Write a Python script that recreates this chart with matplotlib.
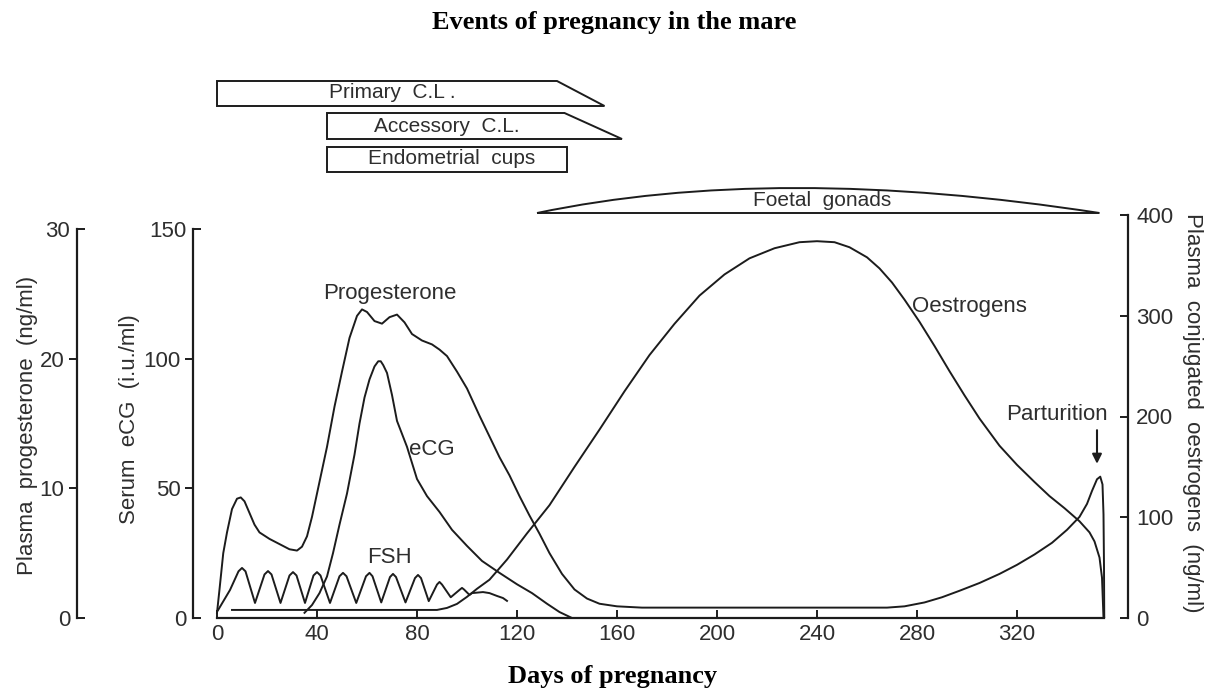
import matplotlib.pyplot as plt
import matplotlib.transforms as mtransforms
from matplotlib.path import Path
from matplotlib.patches import PathPatch, Polygon

# ---- data ----
# progesterone (ng/ml) against day of pregnancy
prog_day = [0, 1, 2.5, 4, 6, 8, 9.5, 11, 13, 15, 17, 21, 25, 29, 32, 34, 36, 38, 41, 44,
            47, 50, 53, 56, 58, 60, 63, 66, 69, 72, 75, 78, 82, 86, 89, 92, 96, 100, 105, 109,
            113, 117, 121, 125, 129, 133, 138, 143, 148, 153, 160, 170, 200, 240, 268, 275, 283,
            290, 297, 305, 313, 320, 327, 334, 340, 345, 348, 350, 352, 353.3, 354.2, 354.6,
            354.8, 354.9]
prog_val = [0.4, 2.2, 5.0, 6.6, 8.4, 9.2, 9.3, 9.0, 8.1, 7.2, 6.6, 6.1, 5.7, 5.3, 5.2, 5.5, 6.3,
            7.8, 10.5, 13.2, 16.3, 19.0, 21.6, 23.3, 23.8, 23.6, 22.9, 22.7, 23.2, 23.4, 22.8,
            21.9, 21.4, 21.1, 20.7, 20.2, 19.0, 17.7, 15.6, 14.0, 12.4, 11.0, 9.4, 7.9, 6.5, 5.0,
            3.4, 2.2, 1.5, 1.1, 0.9, 0.8, 0.8, 0.8, 0.8, 0.9, 1.2, 1.6, 2.1, 2.7, 3.4, 4.1, 4.9,
            5.8, 6.8, 7.8, 8.8, 9.8, 10.7, 10.9, 10.3, 8.0, 4.0, 0.0]

# serum eCG (i.u./ml)
ecg_day = [35, 38, 41, 44, 46.4, 49, 52, 55, 57, 59, 61, 63, 64.5, 65.5, 66.5, 68, 70, 72, 76,
           80, 84, 89, 94, 100, 106, 113, 120, 126, 132, 137, 142]
ecg_val = [2, 5, 9.6, 16, 25, 36, 48, 63, 75, 85, 92, 97, 99, 99, 97.5, 94.5, 86, 76, 66,
           53.6, 47, 40.9, 34, 27.8, 22, 17.4, 13, 9.6, 5.5, 2.3, 0]

# FSH (arbitrary, drawn on the eCG scale)
fsh_day = [0.4, 5.2, 8.6, 10, 11.4, 15.2, 19.0, 20.4, 21.8, 25.4, 29.0, 30.4, 31.8, 35.2,
           38.6, 40.0, 41.4, 45.2, 49.0, 50.4, 51.8, 55.7, 59.6, 61.0, 62.2, 65.7, 69.2, 70.4,
           71.6, 75.4, 79.2, 80.4, 81.6, 84.7, 88.0, 89.0, 90.0, 93.5, 97.2, 98.0, 98.8, 101.0,
           102.0, 106.4, 109.0, 112.0, 114.4, 116.0]
fsh_val = [3.0, 10.8, 18.0, 19.3, 18.0, 5.8, 16.8, 18.1, 16.8, 5.8, 16.4, 17.7, 16.4, 5.8,
           16.4, 17.7, 16.4, 5.8, 16.1, 17.4, 16.1, 5.8, 16.1, 17.4, 16.1, 6.0, 15.8, 17.0,
           15.8, 6.0, 15.4, 16.6, 15.4, 6.5, 12.9, 13.9, 12.9, 8.0, 11.0, 11.6, 11.0, 8.9,
           9.6, 10.0, 9.6, 8.5, 7.7, 6.6]

# plasma conjugated oestrogens (ng/ml)
oes_day = [6, 88, 92, 96, 100, 104, 109, 116, 124, 133, 143, 153, 163, 173, 183, 193, 203,
           213, 223, 233, 240, 247, 253, 260, 265, 270, 275, 281, 287, 293, 299, 305, 313, 320,
           327, 333, 339, 345, 349, 351, 353, 354, 354.6]
oes_val = [8, 8, 10, 14, 21, 29, 38, 58, 84, 112, 150, 187, 225, 261, 292, 320, 341, 357,
           367, 373, 374, 373, 368, 358, 347, 333, 316, 294, 270, 245, 221, 198, 171, 152,
           135, 121, 109, 96, 85, 76, 60, 40, 0]

# phases drawn above the plot (days)
phase_names = ['Primary  C.L .', 'Accessory  C.L.', 'Endometrial  cups']
phase_start = [0, 44, 44]
phase_end_top = [136, 139, 140]
phase_end_bottom = [155, 162, 140]
gonad_start, gonad_peak, gonad_end = 128, 232, 353

ink = '#1c1c1c'
txt = '#2e2e2e'
plt.rcParams['font.family'] = ['Liberation Sans', 'DejaVu Sans']

W, H = 1211, 691
fig = plt.figure(figsize=(W / 100, H / 100), dpi=100)
ax = fig.add_axes([193 / W, 73 / H, 935 / W, 403 / H])
ax.set_xlim(-9.6, 364.4)
ax.set_ylim(0, 155.4)
ax_p = ax.twinx()
ax_p.set_ylim(0, 155.4 / 5)
ax_o = ax.twinx()
ax_o.set_ylim(0, 400)

lw = 1.4
ax_p.plot(prog_day, prog_val, color=ink, lw=lw, solid_joinstyle='round')
ax.plot(ecg_day, ecg_val, color=ink, lw=lw, solid_joinstyle='round')
ax.plot(fsh_day, fsh_val, color=ink, lw=lw, solid_joinstyle='round')
ax_o.plot(oes_day, oes_val, color=ink, lw=lw, solid_joinstyle='round')

for a in (ax, ax_p, ax_o):
    for s in a.spines.values():
        s.set_visible(False)
        s.set_linewidth(1.6)
        s.set_color(ink)

ax.spines['left'].set_visible(True)
ax.spines['left'].set_bounds(0, 150)
ax.spines['bottom'].set_visible(True)
ax.spines['bottom'].set_bounds(0, 354.8)
ax_p.spines['left'].set_visible(True)
ax_p.spines['left'].set_position(('axes', (77 - 193) / 935))
ax_p.spines['left'].set_bounds(0, 30)
ax_p.yaxis.set_ticks_position('left')
ax_o.spines['right'].set_visible(True)
ax_o.spines['right'].set_bounds(0, 400)

tk = dict(width=1.4, color=ink, labelcolor=txt, labelsize=16)
ax.set_xticks([0, 40, 80, 120, 160, 200, 240, 280, 320])
ax.tick_params(axis='x', direction='in', length=6, pad=4, **tk)

ax.set_yticks([50, 100])
ax.set_yticks([0, 150], labels=['0', '150'], minor=True)
ax.tick_params(axis='y', which='major', direction='out', length=6, pad=3, **tk)
ax.tick_params(axis='y', which='minor', direction='in', length=6, pad=5, **tk)

ax_p.set_yticks([10, 20])
ax_p.set_yticks([0, 30], labels=['0', '30'], minor=True)
ax_p.tick_params(axis='y', which='major', direction='out', length=6, pad=3, **tk)
ax_p.tick_params(axis='y', which='minor', direction='in', length=6, pad=5, **tk)

ax_o.set_yticks([0, 100, 200, 300, 400])
ax_o.tick_params(axis='y', direction='in', length=6, pad=6, **tk)

# axis titles
fig.text(28 / W, 1 - 425 / H, 'Plasma  progesterone  (ng/ml)', rotation=90,
         ha='center', va='center', fontsize=16, color=txt)
fig.text(130 / W, 1 - 419 / H, 'Serum  eCG  (i.u./ml)', rotation=90,
         ha='center', va='center', fontsize=16, color=txt)
fig.text(1193 / W, 1 - 413 / H, 'Plasma  conjugated  oestrogens  (ng/ml)', rotation=270,
         ha='center', va='center', fontsize=16, color=txt)
fig.text(614 / W, 1 - 22 / H, 'Events of pregnancy in the mare', ha='center', va='center',
         fontsize=19, fontweight='bold', family='Liberation Serif', color='black')
fig.text(613 / W, 1 - 677 / H, 'Days of pregnancy', ha='center', va='center',
         fontsize=19, fontweight='bold', family='Liberation Serif', color='black')

# curve labels
ax.text(69, 125.3, 'Progesterone', ha='center', va='center', fontsize=16, color=txt)
ax.text(86, 64.8, 'eCG', ha='center', va='center', fontsize=16, color=txt)
ax.text(69, 23.5, 'FSH', ha='center', va='center', fontsize=16, color=txt)
ax.text(301, 120.3, 'Oestrogens', ha='center', va='center', fontsize=16, color=txt)
ax.text(336, 78.3, 'Parturition', ha='center', va='center', fontsize=16, color=txt)
ax.annotate('', xy=(352, 58.4), xytext=(352, 73.5),
            arrowprops=dict(arrowstyle='-|>', lw=1.5, color=ink, mutation_scale=14))

# phase bars above the plot: x in days, y in figure fraction
tr = mtransforms.blended_transform_factory(ax.transData, fig.transFigure)
bar_top = [81, 113, 147]
bar_bottom = [106, 139, 172]
for s, et, eb, yt, yb in zip(phase_start, phase_end_top, phase_end_bottom, bar_top, bar_bottom):
    yt_f, yb_f = 1 - yt / H, 1 - yb / H
    poly = Polygon([(s, yt_f), (et, yt_f), (eb, yb_f), (s, yb_f)], closed=True,
                   fill=False, edgecolor=ink, lw=1.4, transform=tr, clip_on=False)
    fig.add_artist(poly)
ax.text(70, 1 - 93 / H, phase_names[0], transform=tr, ha='center', va='center',
        fontsize=15, color=txt, clip_on=False)
ax.text(92, 1 - 126 / H, phase_names[1], transform=tr, ha='center', va='center',
        fontsize=15, color=txt, clip_on=False)
ax.text(94, 1 - 159 / H, phase_names[2], transform=tr, ha='center', va='center',
        fontsize=15, color=txt, clip_on=False)

base = 1 - 213 / H
ctrl = 1 - 163 / H
ctrl_x = (gonad_peak - 0.25 * gonad_start - 0.25 * gonad_end) / 0.5
gpath = Path([(gonad_start, base), (ctrl_x, ctrl), (gonad_end, base), (gonad_start, base)],
             [Path.MOVETO, Path.CURVE3, Path.CURVE3, Path.LINETO])
fig.add_artist(PathPatch(gpath, fill=False, edgecolor=ink, lw=1.4, transform=tr, clip_on=False))
ax.text(242, 1 - 201 / H, 'Foetal  gonads', transform=tr, ha='center', va='center',
        fontsize=15, color=txt, clip_on=False)

fig.savefig('out.png', dpi=100, facecolor='white')
